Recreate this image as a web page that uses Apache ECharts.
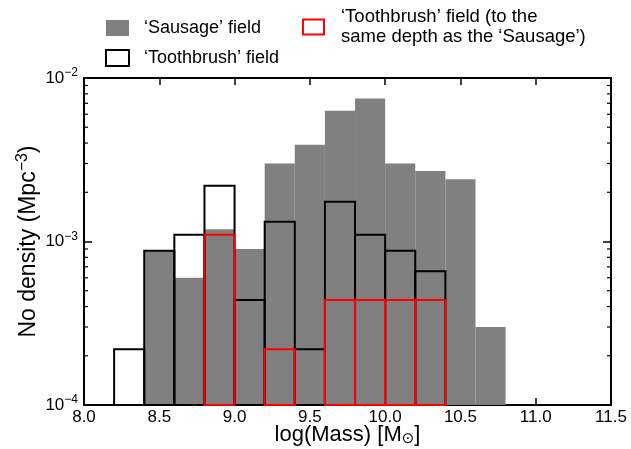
<!DOCTYPE html>
<html>
<head>
<meta charset="utf-8">
<script src="https://cdn.jsdelivr.net/npm/echarts@6/dist/echarts.min.js"></script>
<style>html,body{margin:0;padding:0;background:#fff;}#c{width:631px;height:449px;}</style>
</head>
<body>
<div id="c"></div>
<script>
const binStarts = [8.2, 8.4, 8.6, 8.8, 9.0, 9.2, 9.4, 9.6, 9.8, 10.0, 10.2, 10.4, 10.6];
const binWidth = 0.2;
const sausage = [null, 8.8e-4, 6.0e-4, 1.19e-3, 9.0e-4, 3.0e-3, 3.9e-3, 6.3e-3, 7.5e-3, 3.0e-3, 2.7e-3, 2.4e-3, 3.0e-4];
const toothbrush = [2.19e-4, 8.77e-4, 1.1e-3, 2.19e-3, 4.39e-4, 1.32e-3, 2.19e-4, 1.75e-3, 1.1e-3, 8.77e-4, 6.58e-4, null, null];
const toothbrushDepth = [null, null, null, 1.1e-3, null, 2.19e-4, null, 4.39e-4, 4.39e-4, 4.39e-4, 4.39e-4, null, null];
const xTicks = [8.0, 8.5, 9.0, 9.5, 10.0, 10.5, 11.0, 11.5];
const yMajor = [1e-4, 1e-3, 1e-2];
const yMinor = [2e-4,3e-4,4e-4,5e-4,6e-4,7e-4,8e-4,9e-4,2e-3,3e-3,4e-3,5e-3,6e-3,7e-3,8e-3,9e-3];

const names = ['\u2018Sausage\u2019 field', '\u2018Toothbrush\u2019 field', '\u2018Toothbrush\u2019 field (to the\nsame depth as the \u2018Sausage\u2019)'];
const FONT = 'Liberation Sans';

function toData(arr) {
  const out = [];
  arr.forEach((v, i) => { if (v != null) out.push([binStarts[i], binStarts[i] + binWidth, v]); });
  return out;
}

function barSeries(name, arr, fill, stroke, z) {
  return {
    type: 'custom', name: name, z: z,
    data: toData(arr),
    encode: {x: [0, 1], y: 2},
    renderItem: function (params, api) {
      const p0 = api.coord([api.value(0), api.value(2)]);
      const p1 = api.coord([api.value(1), 1e-4]);
      return {
        type: 'rect',
        shape: {x: p0[0], y: p0[1], width: p1[0] - p0[0], height: p1[1] - p0[1]},
        style: fill ? {fill: fill} : {fill: 'none', stroke: stroke, lineWidth: 2}
      };
    }
  };
}

const chart = echarts.init(document.getElementById('c'));
chart.setOption({
  animation: false,
  textStyle: {fontFamily: FONT},
  grid: {left: 84, right: 20, top: 78, bottom: 44, outerBoundsMode: 'none', containLabel: false},
  legend: [
    {
      orient: 'vertical', left: 105, top: 19, padding: 0, itemWidth: 23, itemHeight: 16, itemGap: 12,
      textStyle: {fontFamily: FONT, fontSize: 18, lineHeight: 18, color: '#000', padding: [0, 0, 0, 10]},
      selectedMode: false,
      data: [
        {name: names[0], icon: 'rect', itemStyle: {color: '#808080', borderWidth: 0}},
        {name: names[1], icon: 'rect', itemStyle: {color: '#fff', borderColor: '#000', borderWidth: 2}}
      ]
    },
    {
      orient: 'vertical', left: 302, top: 7, padding: 0, itemWidth: 21, itemHeight: 15,
      textStyle: {fontFamily: FONT, fontSize: 18.5, color: '#000', lineHeight: 20, padding: [0, 0, 0, 12]},
      selectedMode: false,
      data: [
        {name: names[2], icon: 'rect', itemStyle: {color: '#fff', borderColor: '#ff0000', borderWidth: 2}}
      ]
    }
  ],
  xAxis: [
    {
      type: 'value', min: 8, max: 11.5, interval: 0.5,
      axisLine: {show: true, onZero: false, lineStyle: {color: '#000', width: 2}},
      axisTick: {show: true, inside: true, length: 7, lineStyle: {color: '#000', width: 1.5}},
      axisLabel: {color: '#000', fontSize: 17, fontFamily: FONT, margin: 4,
        formatter: v => v.toFixed(1)},
      splitLine: {show: false},
      name: '{a|log(Mass) [M}{s|\u2299}{a|]}',
      nameLocation: 'middle', nameGap: 19, nameMoveOverlap: false,
      nameTextStyle: {rich: {
        a: {fontSize: 22, fontFamily: FONT, color: '#000', lineHeight: 22},
        s: {fontSize: 15, fontFamily: 'DejaVu Sans', color: '#000', lineHeight: 22, padding: [8, 0, 0, 0]}
      }}
    },
    {
      type: 'value', min: 8, max: 11.5, interval: 0.5, position: 'top',
      axisLine: {show: true, onZero: false, lineStyle: {color: '#000', width: 2}},
      axisTick: {show: true, inside: true, length: 7, lineStyle: {color: '#000', width: 1.5}},
      axisLabel: {show: false}, splitLine: {show: false}
    }
  ],
  yAxis: [
    {
      type: 'log', min: 1e-4, max: 1e-2, logBase: 10,
      axisLine: {show: true, onZero: false, lineStyle: {color: '#000', width: 2}},
      axisTick: {show: true, inside: true, length: 8, lineStyle: {color: '#000', width: 1.5}},
      axisLabel: {color: '#000', margin: 6,
        formatter: function (v) {
          const e = Math.round(Math.log10(v));
          return '{b|10}{s|\u2212' + Math.abs(e) + '}';
        },
        rich: {
          b: {fontSize: 17, fontFamily: FONT, color: '#000'},
          s: {fontSize: 12, fontFamily: FONT, color: '#000', padding: [0, 0, 10, 0]}
        }
      },
      splitLine: {show: false},
      name: '{a|No density (Mpc}{s|\u22123}{a|)}',
      nameLocation: 'middle', nameGap: 41, nameMoveOverlap: false,
      nameTextStyle: {rich: {
        a: {fontSize: 23, fontFamily: FONT, color: '#000'},
        s: {fontSize: 16, fontFamily: FONT, color: '#000', padding: [0, 0, 12, 0]}
      }}
    },
    {
      type: 'log', min: 1e-4, max: 1e-2, logBase: 10, position: 'right',
      axisLine: {show: true, onZero: false, lineStyle: {color: '#000', width: 2}},
      axisTick: {show: true, inside: true, length: 8, lineStyle: {color: '#000', width: 1.5}},
      axisLabel: {show: false}, splitLine: {show: false}
    }
  ],
  series: [
    barSeries(names[0], sausage, '#808080', null, 1),
    barSeries(names[1], toothbrush, null, '#000', 2),
    barSeries(names[2], toothbrushDepth, null, '#ff0000', 3),
    {
      type: 'custom', name: 'minorTicks', z: 5, silent: true,
      data: yMinor.map(v => [v]),
      encode: {y: 0},
      renderItem: function (params, api) {
        const v = api.value(0);
        const l = api.coord([8, v]);
        const r = api.coord([11.5, v]);
        return {
          type: 'group',
          children: [
            {type: 'line', shape: {x1: l[0], y1: l[1], x2: l[0] + 4, y2: l[1]}, style: {stroke: '#000', lineWidth: 1.2}},
            {type: 'line', shape: {x1: r[0], y1: r[1], x2: r[0] - 4, y2: r[1]}, style: {stroke: '#000', lineWidth: 1.2}}
          ]
        };
      }
    }
  ]
});
</script>
</body>
</html>
